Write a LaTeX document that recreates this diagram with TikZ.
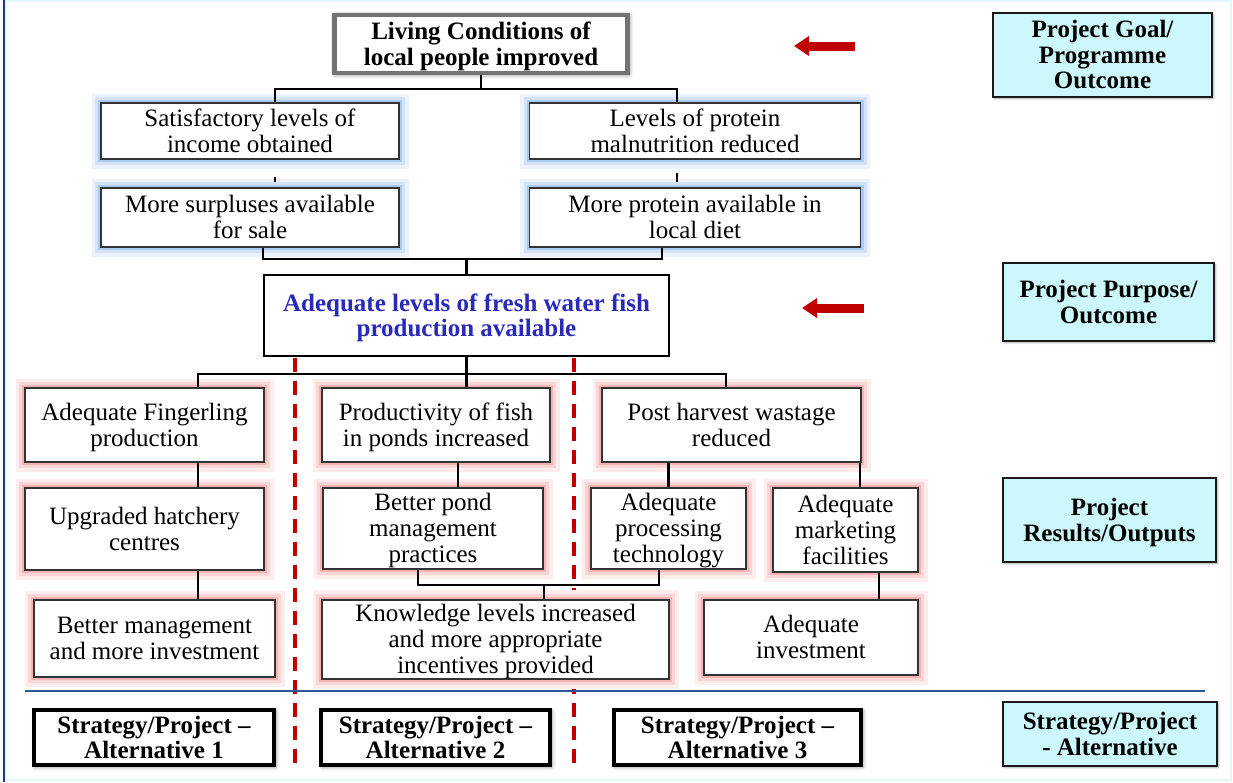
\documentclass[tikz,border=0pt]{standalone}
\usepackage{fontspec}
\setmainfont{Liberation Serif}
\usetikzlibrary{arrows.meta,shadows.blur,calc}
\definecolor{glowblue}{HTML}{8FB8EA}
\definecolor{glowred}{HTML}{F08A8A}
\definecolor{lcyan}{HTML}{CCF8FC}
\definecolor{dred}{HTML}{C00000}
\definecolor{navyline}{HTML}{1F3C88}
\definecolor{sepblue}{HTML}{2F5597}
\definecolor{fishblue}{HTML}{2A2AB8}
\definecolor{framecyan}{HTML}{E2F7FA}
\newcommand{\strA}{\rule{0pt}{22pt}}
\newcommand{\strB}{\rule[-5.5pt]{0pt}{0pt}}
\begin{document}
\begin{tikzpicture}[x=1pt,y=-1pt,
  every node/.style={font=\fontsize{25}{26}\selectfont, align=center, inner sep=0pt},
  bf/.style={font=\fontsize{25}{25.5}\selectfont\bfseries},
  wbox/.style={draw=black!80, line width=1.6pt, fill=white},
  bglow/.style={wbox,
    preaction={draw=glowblue!18!white, line width=19pt},
    preaction={draw=glowblue!40!white, line width=12pt},
    preaction={draw=glowblue!75!white, line width=6pt}},
  rglow/.style={wbox,
    preaction={draw=glowred!16!white, line width=19pt},
    preaction={draw=glowred!36!white, line width=12pt},
    preaction={draw=glowred!65!white, line width=6pt}},
  topbox/.style={bf, draw=black!55, line width=4.5pt, fill=white, blur shadow={shadow xshift=1pt, shadow yshift=-1pt, shadow blur radius=5pt, shadow opacity=60}},
  fishbox/.style={bf, draw=black, line width=2.6pt, fill=white, text=fishblue},
  stratbox/.style={bf, draw=black, line width=3.5pt, fill=white, blur shadow={shadow xshift=1.5pt, shadow yshift=-1.5pt, shadow blur radius=4pt, shadow opacity=60}},
  cyanbox/.style={bf, draw=black!90, line width=2.6pt, fill=lcyan, blur shadow={shadow xshift=1.5pt, shadow yshift=-1.5pt, shadow blur radius=2pt, shadow opacity=40}},
  conn/.style={draw=black, line width=2.2pt},
  sep/.style={draw=dred, line width=3.2pt, dash pattern=on 14pt off 9pt},
  redarrow/.style={draw=dred, line width=9pt, -{Triangle[length=15pt,width=19pt]}},
]
\useasboundingbox (0,0) rectangle (1233,782);
% frame
\draw[framecyan, line width=2pt] (5,1) rectangle (1231,780);
\coordinate (ft) at (4,0); \coordinate (fb) at (4,782);
\draw[navyline, line width=2.5pt] (ft) -- (fb);

% dashed separators (behind boxes)
\coordinate (d1t) at (295,358); \coordinate (d1b) at (295,772);
\coordinate (d2t) at (574,358); \coordinate (d2b) at (574,772);
\draw[sep] (d1t) -- (d1b);
\draw[sep] (d2t) -- (d2b);

% blue separator line
\coordinate (bl1) at (25,691); \coordinate (bl2) at (1205,691);
\draw[sepblue, line width=2.5pt] (bl1) -- (bl2);

% boxes
\node[topbox, minimum width=293, minimum height=58] (living) at (481,44) {\strA Living Conditions of\\local people improved\strB};
\node[bglow, minimum width=298, minimum height=56] (sat) at (250,131) {\strA Satisfactory levels of\\income obtained\strB};
\node[bglow, minimum width=331, minimum height=56] (lev) at (695,131) {\strA Levels of protein\\malnutrition reduced\strB};
\node[bglow, minimum width=298, minimum height=59] (sur) at (250,217.5) {\strA More surpluses available\\for sale\strB};
\node[bglow, minimum width=331, minimum height=59] (pro) at (695,217.5) {\strA More protein available in\\local diet\strB};
\node[fishbox, minimum width=405, minimum height=81] (fish) at (466.5,315.5) {\strA Adequate levels of fresh water fish\\production available\strB};

\node[rglow, minimum width=239, minimum height=74] (fin) at (144.5,425) {\strA Adequate Fingerling\\production\strB};
\node[rglow, minimum width=228, minimum height=74] (prod) at (436,425) {\strA Productivity of fish\\in ponds increased\strB};
\node[rglow, minimum width=259, minimum height=74] (post) at (731.5,425) {\strA Post harvest wastage\\reduced\strB};

\node[rglow, minimum width=239, minimum height=82] (hat) at (144.5,529) {\strA Upgraded hatchery\\centres\strB};
\node[rglow, minimum width=220, minimum height=81] (pond) at (433,528.5) {\strA Better pond\\management\\practices\strB};
\node[rglow, minimum width=155, minimum height=81] (proc) at (668.5,528.5) {\strA Adequate\\processing\\technology\strB};
\node[rglow, minimum width=145, minimum height=84] (mkt) at (845.5,530) {\strA Adequate\\marketing\\facilities\strB};

\node[rglow, minimum width=241, minimum height=77] (bmgmt) at (154.5,638.5) {\strA Better management\\and more investment\strB};
\node[rglow, minimum width=347, minimum height=77] (know) at (495.5,639.5) {\strA Knowledge levels increased\\and more appropriate\\incentives provided\strB};
\node[rglow, minimum width=214, minimum height=75] (ainv) at (811,637.5) {\strA Adequate\\investment\strB};

\node[stratbox, minimum width=240, minimum height=55] (s1) at (154,737.5) {\strA Strategy/Project --\\Alternative 1\strB};
\node[stratbox, minimum width=229, minimum height=55] (s2) at (435.5,737.5) {\strA Strategy/Project --\\Alternative 2\strB};
\node[stratbox, minimum width=247, minimum height=55] (s3) at (737.5,737.5) {\strA Strategy/Project --\\Alternative 3\strB};

\node[cyanbox, minimum width=219, minimum height=84] (goal) at (1102.5,55) {\strA Project Goal/\\Programme\\Outcome\strB};
\node[cyanbox, minimum width=211, minimum height=78] (purp) at (1108.5,302) {\strA Project Purpose/\\Outcome\strB};
\node[cyanbox, minimum width=213, minimum height=84] (res) at (1109.5,520) {\strA Project\\Results/Outputs\strB};
\node[cyanbox, minimum width=214, minimum height=64] (alt) at (1110,734) {\strA Strategy/Project\\- Alternative\strB};

% red arrows
\coordinate (a1s) at (855,46); \coordinate (a1e) at (794,46);
\coordinate (a2s) at (864,308); \coordinate (a2e) at (802,308);
\draw[redarrow] (a1s) -- (a1e);
\draw[redarrow] (a2s) -- (a2e);

% connectors
\draw[conn] (living.south) -- ++(0,14) coordinate (j1);
\draw[conn] ([xshift=25pt]sat.north) |- (j1) -| ([xshift=-18pt]lev.north);
\draw[conn, shorten <=17pt, shorten >=5pt] ([xshift=25pt]sat.south) -- ([xshift=25pt]sur.north);
\draw[conn, shorten <=13pt, shorten >=5pt] ([xshift=-18pt]lev.south) -- ([xshift=-18pt]pro.north);

\draw[conn] (fish.north) -- ++(0,-15) coordinate (j2);
\draw[conn] ([xshift=13pt]sur.south) |- (j2) -| ([xshift=-33pt]pro.south);

\draw[conn] (fish.south) -- ++(0,17) coordinate (j3);
\draw[conn] ([xshift=53.5pt]fin.north) |- (j3) -| ([xshift=-5.5pt]post.north);
\draw[conn] (j3) -- (j3 |- prod.north);

\draw[conn] ([xshift=53.5pt]fin.south) -- ([xshift=53.5pt]fin.south |- hat.north);
\draw[conn] ([xshift=22pt]prod.south) -- ([xshift=22pt]prod.south |- pond.north);
\draw[conn] (proc.north) -- (proc.north |- post.south);
\draw[conn] ([xshift=128.5pt]post.south) -- ([xshift=128.5pt]post.south |- mkt.north);
\draw[conn] ([xshift=53.5pt]hat.south) -- ([xshift=53.5pt]hat.south |- bmgmt.north);

\draw[conn] ([xshift=48.5pt]know.north) -- ++(0,-14) coordinate (j4);
\draw[conn] ([xshift=-15pt]pond.south) |- (j4) -| ([xshift=-9.5pt]proc.south);
\draw[conn] ([xshift=33.5pt]mkt.south) -- ([xshift=33.5pt]mkt.south |- ainv.north);
\end{tikzpicture}
\end{document}
